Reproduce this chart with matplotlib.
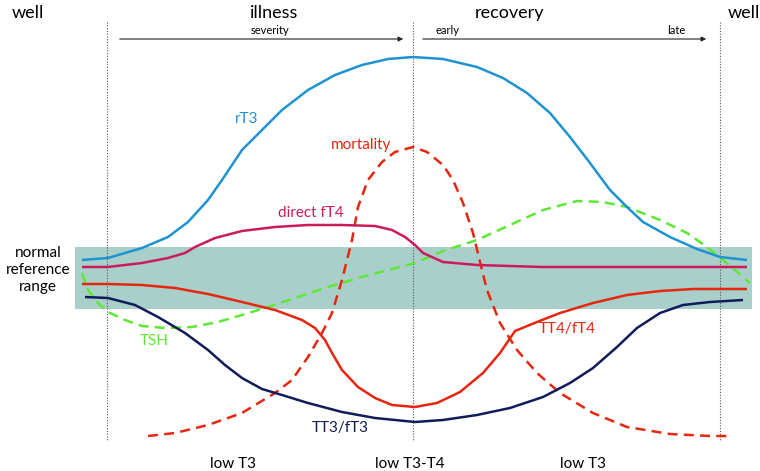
import matplotlib.pyplot as plt

plt.rcParams['font.family'] = ['Lato', 'DejaVu Sans']

# curves, in pixel coordinates (x right, y down)
rt3_x = [82, 108, 142, 168, 188, 208, 222, 242, 262, 282, 308, 335, 362, 388, 413,
         443, 477, 503, 527, 550, 570, 590, 610, 627, 643, 670, 697, 720, 747]
rt3_y = [260, 258, 248, 237, 222, 200, 180, 150, 130, 110, 90, 75, 65, 59, 57,
         59, 67, 78, 93, 113, 137, 163, 190, 207, 222, 237, 249, 257, 260]

ft4_x = [82, 108, 142, 168, 185, 195, 215, 242, 275, 308, 342, 375, 392, 405, 415,
         423, 443, 477, 543, 643, 747]
ft4_y = [267, 267, 263, 258, 253, 247, 238, 231, 227, 225, 225, 226, 230, 237, 245,
         253, 262, 265, 267, 267, 267]

tt4_x = [82, 108, 142, 175, 208, 242, 275, 302, 315, 325, 332, 342, 358, 375, 392, 415,
         437, 460, 483, 500, 515, 537, 560, 593, 627, 660, 693, 747]
tt4_y = [284, 284, 285, 288, 294, 302, 310, 320, 328, 340, 353, 370, 387, 398, 405, 407,
         403, 392, 373, 353, 331, 322, 313, 303, 295, 291, 289, 289]

tt3_x = [85, 108, 135, 158, 185, 208, 225, 242, 262, 282, 308, 342, 375, 415,
         443, 477, 510, 543, 570, 593, 617, 637, 660, 683, 710, 743]
tt3_y = [297, 298, 305, 317, 333, 350, 365, 378, 389, 395, 403, 412, 418, 422,
         420, 415, 408, 397, 383, 368, 347, 328, 313, 305, 302, 300]

tsh_x = [82, 88, 98, 108, 125, 142, 165, 192, 218, 242, 268, 292, 325, 358, 392, 415,
         443, 477, 510, 543, 577, 603, 627, 660, 687, 707, 723, 735, 750]
tsh_y = [273, 290, 303, 312, 320, 326, 328, 327, 322, 315, 307, 299, 288, 278, 269, 263,
         251, 240, 225, 210, 201, 202, 207, 220, 233, 247, 260, 270, 283]

mort_x = [148, 175, 208, 242, 275, 292, 308, 322, 332, 342, 352, 358, 368, 382, 395, 413,
          427, 443, 453, 463, 473, 482, 487, 500, 517, 537, 560, 593, 627, 670, 710, 730]
mort_y = [436, 433, 425, 413, 393, 380, 357, 333, 313, 280, 240, 207, 180, 162, 152, 147,
          152, 165, 180, 203, 233, 270, 290, 323, 350, 373, 393, 413, 427, 434, 436, 436]

phase_x = [107, 413, 720]
headings = ['well', 'illness', 'recovery', 'well']
states = ['low T3', 'low T3-T4', 'low T3']

fig = plt.figure(figsize=(7.6, 4.71), dpi=100)
ax = fig.add_axes([0, 0, 1, 1])
ax.set_xlim(0, 760)
ax.set_ylim(471, 0)
ax.set_axis_off()

# reference band
ax.add_patch(plt.Rectangle((75, 247), 677, 62, color='#a9cfca', lw=0, zorder=1))

for x in phase_x:
    ax.plot([x, x], [22, 440], color='#555555', lw=0.8, ls=(0, (1, 1.5)), zorder=2)

kw = dict(lw=1.8, solid_capstyle='butt', zorder=4)
ax.plot(rt3_x, rt3_y, color='#1d93d2', **kw)
ax.plot(ft4_x, ft4_y, color='#cc1b5b', **kw)
ax.plot(tt4_x, tt4_y, color='#e6260f', **kw)
ax.plot(tt3_x, tt3_y, color='#101c5a', **kw)
ax.plot(tsh_x, tsh_y, color='#5de834', lw=1.8, ls=(0, (4, 2.5)), zorder=3)
ax.plot(mort_x, mort_y, color='#e6260f', lw=1.8, ls=(0, (4, 2.5)), zorder=3)

for x, t in zip([28, 274, 510, 744], headings):
    ax.text(x, 13, t, ha='center', va='center', fontsize=13)

for x0, x1 in [(117, 406), (420, 709)]:
    ax.annotate('', xy=(x1, 39), xytext=(x0, 39),
                arrowprops=dict(arrowstyle='-|>', color='#222222', lw=0.8, mutation_scale=7))
ax.text(270, 31, 'severity', ha='center', va='center', fontsize=8)
ax.text(448, 31, 'early', ha='center', va='center', fontsize=8)
ax.text(676, 31, 'late', ha='center', va='center', fontsize=8)

ax.text(38, 270, 'normal\nreference\nrange', ha='center', va='center', fontsize=11, linespacing=1.25)

ax.text(247, 119, 'rT3', color='#1d93d2', ha='center', va='center', fontsize=11)
ax.text(361, 145, 'mortality', color='#e6260f', ha='center', va='center', fontsize=11)
ax.text(311, 213, 'direct fT4', color='#cc1b5b', ha='center', va='center', fontsize=11)
ax.text(567, 329, 'TT4/fT4', color='#e6260f', ha='center', va='center', fontsize=11)
ax.text(154, 341, 'TSH', color='#5de834', ha='center', va='center', fontsize=11)
ax.text(340, 428, 'TT3/fT3', color='#101c5a', ha='center', va='center', fontsize=11)

for x, t in zip([233, 410, 583], states):
    ax.text(x, 464, t, ha='center', va='center', fontsize=11)

fig.savefig('out.png', dpi=100)
